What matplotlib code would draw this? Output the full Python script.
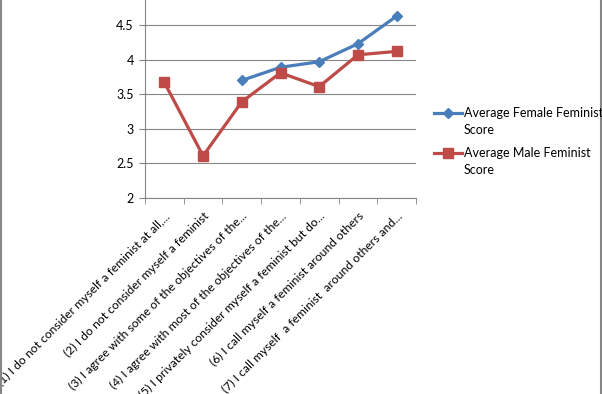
import numpy as np
import matplotlib.pyplot as plt
import matplotlib.transforms as mtransforms
from matplotlib.lines import Line2D

categories = [
    "(1) I do not consider myself a feminist at all,...",
    "(2) I do not consider myself a feminist",
    "(3) I agree with some of the objectives of the...",
    "(4) I agree with most of the objectives of the...",
    "(5) I privately consider myself a feminist but do...",
    "(6) I call myself a feminist around others",
    "(7) I call myself  a feminist  around others and...",
]
female = [np.nan, np.nan, 3.70, 3.89, 3.97, 4.23, 4.63]
male = [3.67, 2.61, 3.39, 3.81, 3.61, 4.07, 4.12]
yticks = [2, 2.5, 3, 3.5, 4, 4.5]
series_names = ["Average Female Feminist", "Average Male Feminist"]

plt.rcParams['font.family'] = ['Lato', 'DejaVu Sans']
fs = 8.7
blue = '#4A7EBB'
red = '#BE4B48'
grey = '#868686'

fig = plt.figure(figsize=(6.02, 3.94), dpi=100)
# axes placed in pixel terms: y-axis at x=145, x-axis at y=198
ax = fig.add_axes([145 / 602, 1 - 198 / 394, 271 / 602, 207.5 / 394])

x = np.arange(len(categories))
ax.plot(x, female, color=blue, lw=2.3, marker='D', ms=5.5, clip_on=False)
ax.plot(x, male, color=red, lw=2.3, marker='s', ms=7, clip_on=False)

ax.set_xlim(-0.5, len(categories) - 0.5)
ax.set_ylim(2, 5)
ax.set_yticks(yticks)
ax.set_yticklabels([f"{t:g}" for t in yticks], fontsize=fs + 0.3)
ax.yaxis.grid(True, color=grey, lw=0.8)
ax.set_axisbelow(True)

ax.set_xticks(x)
ax.set_xticklabels(categories, rotation=45, ha='right', va='top',
                   rotation_mode='anchor', fontsize=fs)
shift = mtransforms.ScaledTranslation(4 / 100, 0, fig.dpi_scale_trans)
for lab in ax.get_xticklabels():
    lab.set_transform(lab.get_transform() + shift)
ax.set_xticks(np.arange(len(categories) + 1) - 0.5, minor=True)
ax.tick_params(axis='x', which='major', length=0, pad=9)
ax.tick_params(axis='x', which='minor', length=4, color=grey)
ax.tick_params(axis='y', length=4, color=grey, pad=4)

for s in ['top', 'right']:
    ax.spines[s].set_visible(False)
for s in ['left', 'bottom']:
    ax.spines[s].set_color(grey)
    ax.spines[s].set_linewidth(0.8)

# legend drawn by hand so the key sits on the first text line, as in Excel
legend_rows = [(113, blue, 'D', 5.5), (153, red, 's', 7)]
for name, (yp, c, m, ms) in zip(series_names, legend_rows):
    yf = 1 - yp / 394
    fig.add_artist(Line2D([434 / 602, 462 / 602], [yf, yf], color=c, lw=2.3))
    fig.add_artist(Line2D([448 / 602], [yf], color=c, marker=m, ms=ms, lw=0))
    fig.text(464 / 602, yf, name, fontsize=9.0, va='center', ha='left')
    fig.text(464 / 602, 1 - (yp + 17) / 394, "Score", fontsize=9.0,
             va='center', ha='left')

# chart border remnants on the left and right edges
fig.add_artist(Line2D([0.5 / 602, 0.5 / 602], [0, 1], color=grey, lw=1.5))
fig.add_artist(Line2D([601 / 602, 601 / 602], [0, 1], color=grey, lw=1.5))

fig.savefig('out.png', dpi=100)
